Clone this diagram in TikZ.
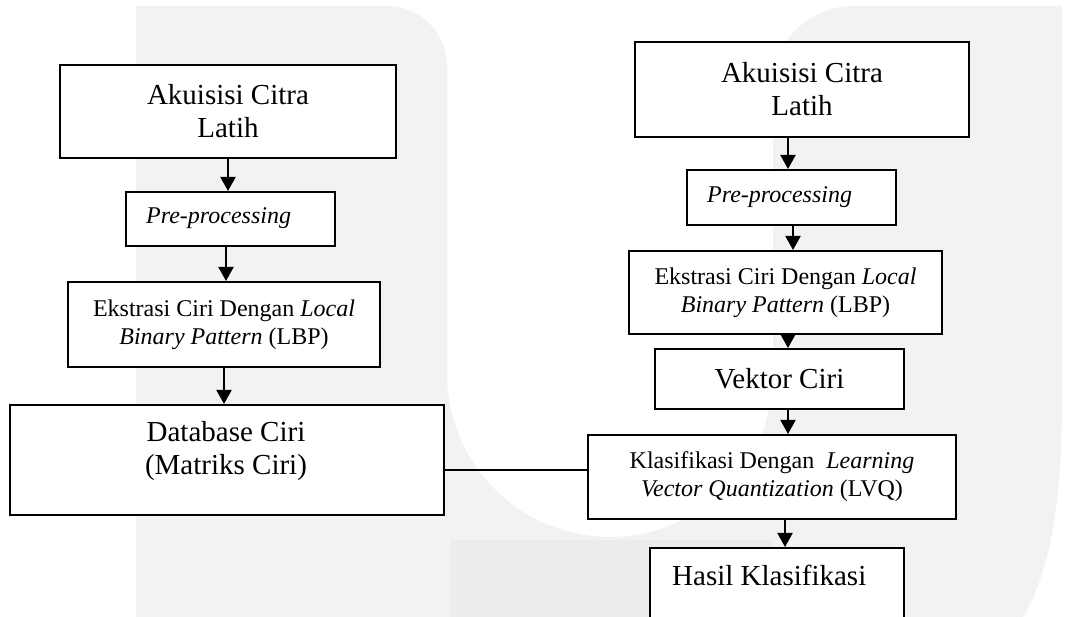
\documentclass[tikz,border=0pt]{standalone}
\usepackage{fontspec}
\setmainfont{Liberation Serif}
\usetikzlibrary{arrows.meta,calc}
\definecolor{wmlight}{HTML}{F2F2F2}
\definecolor{wmdark}{HTML}{ECECEC}
\newcommand\bigf{\fontsize{29}{33}\selectfont}
\newcommand\smf{\fontsize{24}{28}\selectfont}
\begin{document}
\begin{tikzpicture}[x=1pt,y=-1pt,
  box/.style={draw=black,line width=2pt,fill=white,inner sep=0pt,anchor=north west,align=center},
  lbl/.style={inner sep=0pt,align=center},
  arr/.style={line width=2pt,-{Triangle[length=14pt,width=15pt]}},
  link/.style={line width=2pt}]
\useasboundingbox (0,0) rectangle (1069,617);
\fill[white] (0,0) rectangle (1069,617);
% watermark
\fill[wmlight] (136,617) -- (136,6) -- (387,6) arc(-90:0:60) -- (447,374)
  arc(180:0:163) -- (773,86) arc(180:270:80) -- (1062,6) -- (1062,400)
  .. controls (1062,520) and (1045,580) .. (1023,617) -- cycle;
\fill[wmdark] (450,540) rectangle (773,617);
% left column
\node[box,minimum width=336pt,minimum height=93pt,font=\bigf] (A1) at (59,64) {Akuisisi Citra\\Latih};
\node[box,minimum width=209pt,minimum height=54pt] (P1) at (125,191) {};
\node[lbl,anchor=west,font=\smf\itshape] (P1t) at (146,218) {Pre-processing};
\node[box,minimum width=312pt,minimum height=85pt,font=\smf] (E1) at (67,281) {Ekstrasi Ciri Dengan \textit{Local}\\\textit{Binary Pattern} (LBP)};
\node[box,minimum width=434pt,minimum height=110pt] (DB) at (9,404) {};
\node[lbl,font=\bigf] (DBt) at (226,451) {Database Ciri\\(Matriks Ciri)};
% right column
\node[box,minimum width=334pt,minimum height=95pt,font=\bigf] (A2) at (634,41) {Akuisisi Citra\\Latih};
\node[box,minimum width=209pt,minimum height=55pt] (P2) at (686,169) {};
\node[lbl,anchor=west,font=\smf\itshape] (P2t) at (707,197) {Pre-processing};
\node[box,minimum width=313pt,minimum height=83pt,font=\smf] (E2) at (628,250) {Ekstrasi Ciri Dengan \textit{Local}\\\textit{Binary Pattern} (LBP)};
\node[box,minimum width=249pt,minimum height=60pt,font=\bigf] (V) at (654,348) {Vektor Ciri};
\node[box,minimum width=368pt,minimum height=84pt,font=\smf] (K) at (587,434) {Klasifikasi Dengan~ \textit{Learning}\\\textit{Vector Quantization} (LVQ)};
\node[box,minimum width=254pt,minimum height=93pt] (H) at (649,547) {};
\node[lbl,anchor=west,font=\bigf] (Ht) at (672,575) {Hasil Klasifikasi};
% arrow x positions
\coordinate (ax1) at (228,0);
\coordinate (ax2) at (226,0);
\coordinate (ax3) at (224,0);
\coordinate (bx1) at (788,0);
\coordinate (bx2) at (793,0);
\coordinate (bx3) at (788,0);
\coordinate (bx4) at (788,0);
\coordinate (bx5) at (785,0);
\coordinate (ly) at (0,470);
% connectors
\draw[arr] (A1.south -| ax1) -- (P1.north -| ax1);
\draw[arr] (P1.south -| ax2) -- (E1.north -| ax2);
\draw[arr] (E1.south -| ax3) -- (DB.north -| ax3);
\draw[arr] (A2.south -| bx1) -- (P2.north -| bx1);
\draw[arr] (P2.south -| bx2) -- (E2.north -| bx2);
\draw[arr] (E2.south -| bx3) -- (V.north -| bx3);
\draw[arr] (V.south -| bx4) -- (K.north -| bx4);
\draw[arr] (K.south -| bx5) -- (H.north -| bx5);
\draw[link] (DB.east |- ly) -- (K.west |- ly);
\end{tikzpicture}
\end{document}
